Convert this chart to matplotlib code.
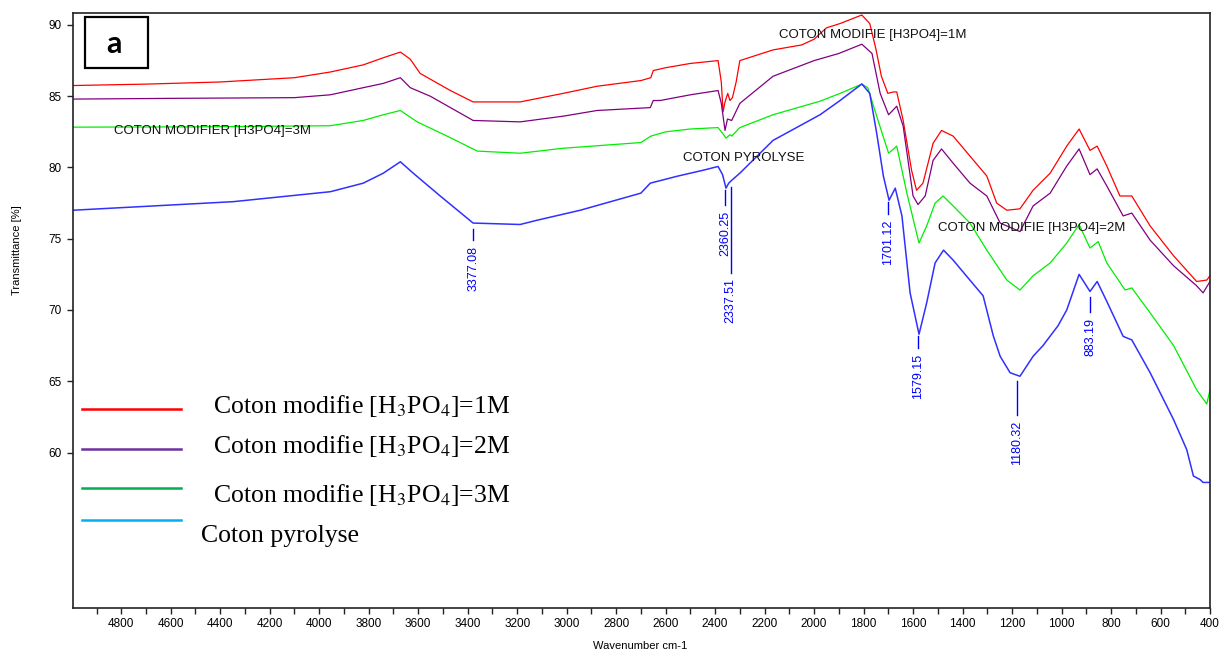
import numpy as np
import matplotlib
matplotlib.use("Agg")
import matplotlib.pyplot as plt
from matplotlib.patches import Rectangle
from matplotlib.lines import Line2D
from matplotlib.ticker import MultipleLocator, FixedLocator

plt.rcParams["font.family"] = ["Liberation Sans", "DejaVu Sans"]
plt.rcParams["mathtext.fontset"] = "stix"

# ── spectra (wavenumber cm-1, transmittance %) ────────────────────
wn_1m = [4995, 4700, 4400, 4100, 3955, 3822, 3741, 3672, 3632, 3592, 3470, 3378,
         3188, 3014, 2877, 2700, 2660, 2650, 2600, 2500, 2388, 2375, 2368, 2360,
         2349, 2340, 2330, 2315, 2300, 2166, 2050, 2000, 1950, 1895, 1807, 1775,
         1750, 1728, 1702, 1680, 1666, 1640, 1606, 1586, 1560, 1519, 1485, 1438,
         1370, 1302, 1262, 1221, 1168, 1115, 1046, 979, 929, 885, 856, 817,
         764, 716, 642, 547, 454, 413, 400]
t_1m = [85.75, 85.85, 86.0, 86.3, 86.7, 87.2, 87.7, 88.1, 87.6, 86.6, 85.4, 84.6,
        84.6, 85.2, 85.7, 86.1, 86.3, 86.8, 87.0, 87.3, 87.5, 86.0, 83.9, 84.6,
        85.2, 84.7, 84.9, 86.0, 87.5, 88.25, 88.6, 89.0, 89.8, 90.1, 90.7, 90.1,
        88.3, 86.4, 85.2, 85.3, 85.3, 83.3, 79.8, 78.4, 78.9, 81.7, 82.6, 82.2,
        80.8, 79.4, 77.5, 77.0, 77.1, 78.4, 79.6, 81.5, 82.7, 81.2, 81.5, 80.1,
        78.0, 78.0, 75.9, 73.8, 72.0, 72.1, 72.4]

wn_2m = [4995, 4600, 4100, 3955, 3822, 3741, 3672, 3632, 3551, 3378, 3188, 3014,
         2877, 2662, 2650, 2622, 2500, 2388, 2375, 2360, 2350, 2333, 2300, 2166,
         2000, 1900, 1807, 1766, 1733, 1699, 1666, 1640, 1600, 1580, 1551, 1519,
         1485, 1438, 1370, 1302, 1248, 1168, 1115, 1046, 979, 929, 885, 856,
         817, 751, 716, 642, 547, 454, 428, 400]
t_2m = [84.8, 84.85, 84.9, 85.1, 85.6, 85.9, 86.3, 85.6, 85.0, 83.3, 83.2, 83.6,
        84.0, 84.2, 84.7, 84.7, 85.1, 85.4, 84.5, 82.6, 83.4, 83.3, 84.5, 86.4,
        87.5, 88.0, 88.65, 88.0, 85.2, 83.7, 84.3, 82.9, 78.0, 77.4, 78.0, 80.5,
        81.3, 80.3, 78.9, 78.0, 76.1, 75.5, 77.3, 78.2, 80.1, 81.3, 79.5, 79.9,
        78.7, 76.6, 76.8, 74.9, 73.1, 71.7, 71.2, 72.0]

wn_3m = [4995, 4500, 3955, 3822, 3741, 3672, 3604, 3483, 3361, 3188, 3014, 2700,
         2660, 2600, 2500, 2388, 2370, 2356, 2340, 2333, 2300, 2166, 1976, 1895,
         1807, 1783, 1747, 1699, 1666, 1625, 1576, 1545, 1511, 1479, 1438, 1370,
         1302, 1221, 1168, 1115, 1046, 979, 929, 885, 852, 817, 743, 716,
         642, 547, 454, 413, 400]
t_3m = [82.83, 82.85, 82.93, 83.3, 83.7, 84.0, 83.2, 82.2, 81.15, 81.0, 81.35, 81.75,
        82.2, 82.5, 82.7, 82.8, 82.4, 82.06, 82.3, 82.2, 82.8, 83.7, 84.65, 85.2,
        85.85, 85.6, 83.6, 81.0, 81.5, 78.2, 74.7, 75.9, 77.5, 78.0, 77.3, 76.1,
        74.2, 72.1, 71.4, 72.4, 73.3, 74.7, 76.0, 74.35, 74.8, 73.3, 71.4, 71.55,
        69.8, 67.5, 64.4, 63.4, 64.4]

wn_pyr = [4995, 4348, 3955, 3822, 3741, 3672, 3620, 3511, 3378, 3188, 3119, 2945,
          2700, 2662, 2550, 2450, 2388, 2370, 2356, 2345, 2333, 2300, 2166, 1976,
          1895, 1807, 1775, 1747, 1720, 1697, 1672, 1645, 1612, 1576, 1545, 1511,
          1477, 1438, 1385, 1317, 1276, 1248, 1208, 1168, 1115, 1075, 1014, 979,
          929, 885, 856, 817, 751, 716, 642, 547, 494, 467, 440, 428, 400]
t_pyr = [77.0, 77.6, 78.3, 78.9, 79.6, 80.4, 79.6, 78.0, 76.1, 76.0, 76.3, 77.0,
         78.2, 78.9, 79.4, 79.8, 80.07, 79.5, 78.55, 78.9, 79.1, 79.6, 81.9, 83.7,
         84.7, 85.86, 85.2, 82.4, 79.4, 77.7, 78.55, 76.6, 71.2, 68.3, 70.5, 73.3,
         74.2, 73.5, 72.4, 71.0, 68.2, 66.75, 65.6, 65.35, 66.75, 67.5, 68.9, 70.0,
         72.5, 71.3, 72.0, 70.6, 68.15, 67.9, 65.6, 62.3, 60.2, 58.35, 58.1, 57.9, 57.9]

# picked bands on the pyrolysed cotton spectrum
peaks_pyr = [3377.08, 2360.25, 2337.51, 1701.12, 1579.15, 1180.32, 883.19]
peak_tick_len = [0.8, 1.05, 6.0, 0.85, 0.85, 2.4, 1.1]

legend_labels = [r"Coton modifie [H$_3$PO$_4$]=1M",
                 r"Coton modifie [H$_3$PO$_4$]=2M",
                 r"Coton modifie [H$_3$PO$_4$]=3M",
                 "Coton pyrolyse"]

W, H = 1227, 653
fig = plt.figure(figsize=(W / 100, H / 100), dpi=100)
ax = fig.add_axes([73 / W, 1 - 607.7 / H, (1210 - 73) / W, (607.7 - 13) / H])

ax.plot(wn_1m, t_1m, color="#ff0000", lw=0.9)
ax.plot(wn_2m, t_2m, color="#800080", lw=0.9)
ax.plot(wn_3m, t_3m, color="#00ee00", lw=0.9)
ax.plot(wn_pyr, t_pyr, color="#3030ff", lw=1.1)

ax.set_xlim(4995, 400)
ax.set_ylim(49.11, 90.84)
ax.xaxis.set_major_locator(MultipleLocator(200))
ax.xaxis.set_minor_locator(MultipleLocator(100))
ax.yaxis.set_major_locator(FixedLocator([60, 65, 70, 75, 80, 85, 90]))
ax.tick_params(axis="both", which="both", direction="out", length=4.5, width=1,
               labelsize=8.5, color="#222")
ax.tick_params(axis="x", pad=3)
for sp in ax.spines.values():
    sp.set_linewidth(1.2)
    sp.set_color("#222")

# band labels: short marker under the curve, rotated value below it
for wn, ln in zip(peaks_pyr, peak_tick_len):
    yc = np.interp(wn, wn_pyr[::-1], t_pyr[::-1])
    y0 = yc - 0.4
    y1 = y0 - ln
    ax.plot([wn, wn], [y0, y1], color="#0000ff", lw=1.0)
    ax.text(wn, y1 - 0.4, f"{wn:.2f}", rotation=90, ha="center", va="top",
            color="#0000ff", fontsize=9)

lab_kw = dict(fontsize=9.5, va="center", color="#111")
ax.text(4828, 82.56, "COTON MODIFIER [H3PO4]=3M", **lab_kw)
ax.text(2141, 89.3, "COTON MODIFIE [H3PO4]=1M", **lab_kw)
ax.text(2529, 80.67, "COTON PYROLYSE", **lab_kw)
ax.text(1499, 75.75, "COTON MODIFIE [H3PO4]=2M", **lab_kw)

fig.text(17 / W, 1 - 250 / H, "Transmittance [%]", rotation=90, ha="center", va="center",
         fontsize=8)
fig.text(640 / W, 1 - 646 / H, "Wavenumber cm-1", ha="center", va="center", fontsize=8)

# hand-drawn key in the lower left
key_colors = ["#ff0000", "#7030a0", "#00b050", "#00b0f0"]
key_line_y = [409, 449, 488, 520]
key_text = [(213, 413), (213, 453), (213, 502), (201, 542)]
for c, ly, (tx, ty), lab in zip(key_colors, key_line_y, key_text, legend_labels):
    fig.add_artist(Line2D([82 / W, 181 / W], [1 - ly / H, 1 - ly / H], color=c, lw=1.8))
    fig.text(tx / W, 1 - ty / H, lab, family=["Liberation Serif", "DejaVu Serif"],
             fontsize=18.5, va="baseline", ha="left")

# panel letter
fig.add_artist(Rectangle((84.5 / W, 1 - 68 / H), 63 / W, 51 / H, fill=False,
                         edgecolor="black", lw=1.6, transform=fig.transFigure))
fig.text(114 / W, 1 - 44 / H, "a", family=["Lato", "DejaVu Sans"], weight="bold",
         fontsize=22, ha="center", va="center")

fig.savefig("out.png", dpi=100)
